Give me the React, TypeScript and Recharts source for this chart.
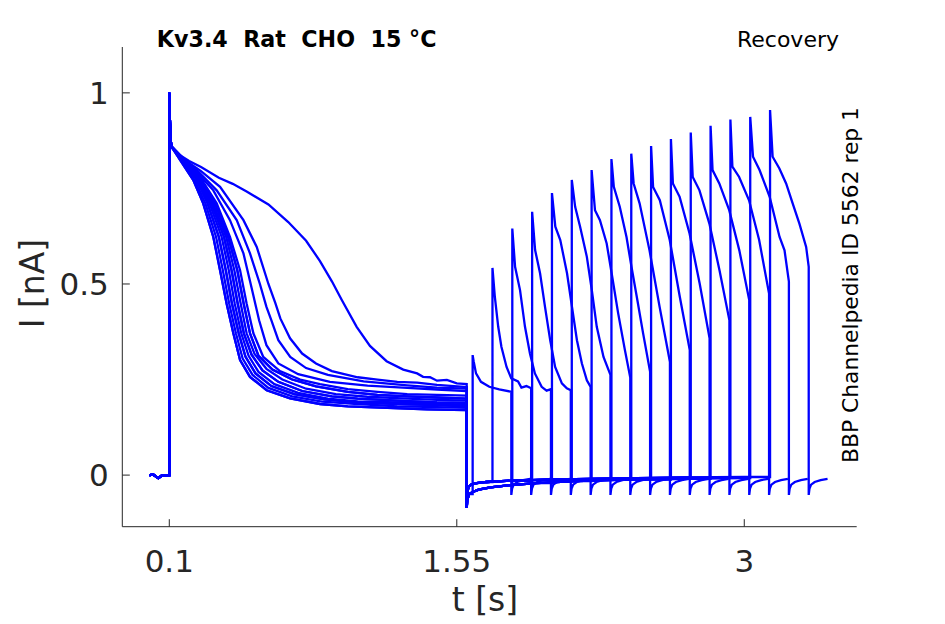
import { LineChart, Line, XAxis, YAxis } from "recharts";

type Pt = [number, number];

const xTicks = [0.1, 1.55, 3];
const yTicks = [0, 0.5, 1];

// holding level before the conditioning pulse
const holdBaseline: Pt[] = [[0, 0], [0.02, 0.001], [0.045, -0.008], [0.06, -0.002], [0.1, 0]];
// activation spike at the start of the conditioning pulse
const onsetSpike: Pt[] = [[0.1, 1.0], [0.101, 0.985], [0.103, 0.93], [0.106, 0.885]];

// conditioning pulse (0.1 - 1.6 s), one shape per sweep group
const prepulseSlow: Pt[] = [
  [0.11, 0.858], [0.15, 0.838], [0.2, 0.822], [0.26, 0.806], [0.35, 0.778], [0.42, 0.762],
  [0.49, 0.742], [0.6, 0.708], [0.7, 0.662], [0.79, 0.613], [0.86, 0.56], [0.92, 0.507],
  [0.97, 0.458], [1.045, 0.388], [1.112, 0.338], [1.196, 0.298], [1.28, 0.276], [1.35, 0.266],
  [1.38, 0.257], [1.415, 0.256], [1.45, 0.247], [1.5, 0.249], [1.55, 0.24], [1.6, 0.238],
];
const prepulseA: Pt[] = [
  [0.11, 0.86], [0.18, 0.824], [0.26, 0.795], [0.356, 0.754], [0.474, 0.667], [0.541, 0.597],
  [0.6, 0.5], [0.635, 0.45], [0.66, 0.41], [0.709, 0.358], [0.77, 0.318], [0.84, 0.292],
  [0.92, 0.272], [1.05, 0.256], [1.15, 0.25], [1.25, 0.244], [1.35, 0.242], [1.45, 0.236], [1.6, 0.23],
];
const prepulseB: Pt[] = [
  [0.11, 0.86], [0.18, 0.823], [0.25, 0.792], [0.339, 0.745], [0.44, 0.667], [0.507, 0.58],
  [0.557, 0.5], [0.59, 0.44], [0.615, 0.405], [0.65, 0.353], [0.71, 0.309], [0.79, 0.28],
  [0.9, 0.262], [1.08, 0.245], [1.3, 0.235], [1.45, 0.229], [1.6, 0.226],
];
const prepulseC: Pt[] = [
  [0.11, 0.86], [0.18, 0.822], [0.25, 0.786], [0.322, 0.745], [0.406, 0.667], [0.474, 0.58],
  [0.515, 0.49], [0.553, 0.405], [0.59, 0.34], [0.65, 0.292], [0.75, 0.264], [0.91, 0.244],
  [1.1, 0.234], [1.3, 0.228], [1.45, 0.224], [1.6, 0.22],
];
const prepulseF1: Pt[] = [
  [0.11, 0.86], [0.155, 0.824], [0.221, 0.772], [0.271, 0.711], [0.322, 0.623], [0.356, 0.536],
  [0.389, 0.449], [0.423, 0.371], [0.457, 0.301], [0.507, 0.257], [0.591, 0.222], [0.709, 0.201],
  [0.86, 0.186], [1.0, 0.18], [1.2, 0.176], [1.4, 0.172], [1.6, 0.17],
];
const prepulseF2: Pt[] = [
  [0.11, 0.86], [0.16, 0.824], [0.228, 0.772], [0.282, 0.711], [0.336, 0.623], [0.37, 0.536],
  [0.402, 0.449], [0.436, 0.371], [0.47, 0.305], [0.52, 0.262], [0.6, 0.228], [0.72, 0.206],
  [0.87, 0.192], [1.05, 0.186], [1.25, 0.18], [1.45, 0.178], [1.6, 0.176],
];
const prepulseF3: Pt[] = [
  [0.11, 0.86], [0.165, 0.824], [0.235, 0.775], [0.293, 0.711], [0.35, 0.623], [0.385, 0.536],
  [0.416, 0.449], [0.45, 0.371], [0.484, 0.31], [0.535, 0.266], [0.615, 0.233], [0.73, 0.212],
  [0.88, 0.198], [1.05, 0.19], [1.25, 0.186], [1.45, 0.183], [1.6, 0.18],
];
const prepulseF4: Pt[] = [
  [0.11, 0.86], [0.168, 0.824], [0.24, 0.776], [0.303, 0.711], [0.364, 0.623], [0.4, 0.536],
  [0.43, 0.449], [0.463, 0.371], [0.5, 0.312], [0.55, 0.27], [0.63, 0.238], [0.75, 0.215],
  [0.9, 0.2], [1.05, 0.193], [1.25, 0.19], [1.45, 0.187], [1.6, 0.184],
];
const prepulseF5: Pt[] = [
  [0.11, 0.86], [0.171, 0.824], [0.244, 0.777], [0.312, 0.711], [0.376, 0.623], [0.414, 0.536],
  [0.445, 0.449], [0.476, 0.371], [0.515, 0.315], [0.57, 0.274], [0.65, 0.244], [0.77, 0.22],
  [0.92, 0.206], [1.05, 0.2], [1.25, 0.195], [1.45, 0.19], [1.6, 0.189],
];
const prepulseF6: Pt[] = [
  [0.11, 0.86], [0.174, 0.824], [0.248, 0.778], [0.32, 0.711], [0.387, 0.623], [0.428, 0.536],
  [0.46, 0.449], [0.49, 0.371], [0.53, 0.317], [0.59, 0.278], [0.67, 0.25], [0.79, 0.226],
  [0.94, 0.212], [1.1, 0.205], [1.3, 0.2], [1.45, 0.197], [1.6, 0.195],
];
const prepulseF7: Pt[] = [
  [0.11, 0.86], [0.177, 0.824], [0.252, 0.779], [0.33, 0.711], [0.397, 0.623], [0.443, 0.536],
  [0.475, 0.449], [0.507, 0.371], [0.55, 0.312], [0.62, 0.276], [0.72, 0.25], [0.84, 0.232],
  [1.0, 0.218], [1.15, 0.21], [1.3, 0.206], [1.45, 0.203], [1.6, 0.2],
];
const prepulseF8: Pt[] = [
  [0.11, 0.86], [0.18, 0.822], [0.255, 0.78], [0.339, 0.711], [0.406, 0.623], [0.457, 0.536],
  [0.49, 0.449], [0.524, 0.371], [0.574, 0.309], [0.658, 0.272], [0.76, 0.25], [0.86, 0.238],
  [1.0, 0.225], [1.15, 0.218], [1.3, 0.212], [1.45, 0.21], [1.6, 0.208],
];

// recovery at the holding level after the conditioning pulse
const recoveryDeep: Pt[] = [
  [1.6, -0.086], [1.603, -0.065], [1.612, -0.05], [1.63, -0.044], [1.66, -0.038], [1.72, -0.032],
  [1.82, -0.026], [1.95, -0.021], [2.15, -0.016], [2.4, -0.012], [2.7, -0.01], [3.0, -0.008],
];
const recoveryShallow: Pt[] = [
  [1.6, -0.07], [1.603, -0.045], [1.61, -0.03], [1.625, -0.024], [1.65, -0.021], [1.7, -0.018],
  [1.8, -0.015], [2.0, -0.012], [2.3, -0.009], [2.7, -0.006], [3.0, -0.005],
];

// test pulse start times (s)
const testStart = [1.63, 1.73, 1.83, 1.93, 2.03, 2.13, 2.23, 2.33, 2.43, 2.53, 2.63, 2.73, 2.83, 2.93, 3.03, 3.13];

// test pulse currents, [time after test pulse start, I]
const pulse00: Pt[] = [[0, 0.314], [0.005, 0.298], [0.017, 0.266], [0.042, 0.244], [0.084, 0.231], [0.134, 0.224], [0.195, 0.218]];
const pulse01: Pt[] = [[0, 0.542], [0.012, 0.466], [0.029, 0.388], [0.045, 0.336], [0.071, 0.283], [0.095, 0.253], [0.129, 0.245], [0.146, 0.229], [0.171, 0.233], [0.195, 0.227]];
const pulse02: Pt[] = [[0, 0.645], [0.014, 0.545], [0.039, 0.484], [0.064, 0.388], [0.089, 0.318], [0.114, 0.266], [0.148, 0.231], [0.173, 0.221], [0.195, 0.225]];
const pulse03: Pt[] = [[0, 0.689], [0.015, 0.589], [0.04, 0.528], [0.065, 0.44], [0.091, 0.353], [0.116, 0.283], [0.15, 0.24], [0.175, 0.227], [0.195, 0.222]];
const pulse04: Pt[] = [[0, 0.738], [0.017, 0.65], [0.042, 0.615], [0.076, 0.528], [0.101, 0.44], [0.126, 0.353], [0.151, 0.292], [0.176, 0.248], [0.195, 0.231]];
const pulse05: Pt[] = [[0, 0.772], [0.017, 0.702], [0.042, 0.65], [0.076, 0.571], [0.101, 0.484], [0.126, 0.388], [0.16, 0.309], [0.195, 0.262]];
const pulse06: Pt[] = [[0, 0.798], [0.017, 0.693], [0.042, 0.667], [0.076, 0.606], [0.101, 0.528], [0.134, 0.423], [0.168, 0.327], [0.195, 0.255]];
const pulse07: Pt[] = [[0, 0.827], [0.012, 0.754], [0.042, 0.702], [0.076, 0.623], [0.101, 0.545], [0.13, 0.46], [0.16, 0.37], [0.195, 0.27]];
const pulse08: Pt[] = [[0, 0.841], [0.012, 0.763], [0.042, 0.711], [0.092, 0.588], [0.143, 0.44], [0.195, 0.296]];
const pulse09: Pt[] = [[0, 0.861], [0.01, 0.754], [0.044, 0.719], [0.094, 0.615], [0.145, 0.466], [0.195, 0.327]];
const pulse10: Pt[] = [[0, 0.879], [0.01, 0.763], [0.044, 0.728], [0.094, 0.632], [0.145, 0.501], [0.195, 0.358]];
const pulse11: Pt[] = [[0, 0.896], [0.01, 0.78], [0.044, 0.745], [0.094, 0.658], [0.145, 0.536], [0.195, 0.405]];
const pulse12: Pt[] = [[0, 0.914], [0.01, 0.798], [0.044, 0.763], [0.094, 0.693], [0.145, 0.588], [0.195, 0.458]];
const pulse13: Pt[] = [[0, 0.93], [0.01, 0.807], [0.044, 0.78], [0.094, 0.719], [0.145, 0.615], [0.195, 0.475]];
const pulse14: Pt[] = [[0, 0.937], [0.014, 0.833], [0.047, 0.798], [0.098, 0.728], [0.148, 0.623], [0.173, 0.588], [0.195, 0.506]];
const pulse15: Pt[] = [[0, 0.955], [0.013, 0.833], [0.047, 0.802], [0.081, 0.763], [0.114, 0.711], [0.148, 0.658], [0.182, 0.597], [0.195, 0.545]];

// tail after the test pulse, [time after test pulse end, I]
const tailAfter: Pt[] = [[0, -0.052], [0.004, -0.035], [0.012, -0.025], [0.03, -0.018], [0.06, -0.013], [0.095, -0.01]];

const testPulses = [pulse00, pulse01, pulse02, pulse03, pulse04, pulse05, pulse06, pulse07,
  pulse08, pulse09, pulse10, pulse11, pulse12, pulse13, pulse14, pulse15];
const prepulses = [prepulseSlow, prepulseA, prepulseB, prepulseC, prepulseF1, prepulseF2, prepulseF3, prepulseF4,
  prepulseF5, prepulseF6, prepulseF7, prepulseF8, prepulseF1, prepulseF3, prepulseF5, prepulseF7];
const recoveries = testStart.map((_, k) => (k % 2 === 0 ? recoveryDeep : recoveryShallow));

function buildSweep(k: number) {
  const pts: { t: number; i: number }[] = [];
  const add = (t: number, i: number) => pts.push({ t, i });
  holdBaseline.forEach(([t, v]) => add(t, v));
  onsetSpike.forEach(([t, v]) => add(t, v));
  prepulses[k].forEach(([t, v]) => add(t, v));
  const start = testStart[k];
  let last = 0;
  recoveries[k].forEach(([t, v]) => {
    if (t < start) {
      add(t, v);
      last = v;
    }
  });
  add(start, last);
  const pulse = testPulses[k];
  pulse.forEach(([dt, v]) => add(start + dt, v));
  const end = start + pulse[pulse.length - 1][0];
  tailAfter.forEach(([dt, v]) => add(end + dt, v));
  return pts;
}

const sweeps = testStart.map((_, k) => buildSweep(k));

const ink = "#262626";

export default function App() {
  return (
    <div style={{ position: "relative", width: 937, height: 616, fontFamily: "DejaVu Sans" }}>
      <LineChart width={937} height={616} margin={{ top: 39, right: 88.3, bottom: 37.3, left: 0 }}>
        <XAxis
          type="number"
          dataKey="t"
          domain={[-0.137, 3.567]}
          allowDataOverflow
          ticks={xTicks}
          interval={0}
          height={60}
          tickSize={-7.5}
          tickMargin={30.5}
          tick={{ fontSize: 31, fill: ink }}
          axisLine={{ stroke: ink }}
          tickLine={{ stroke: ink }}
        />
        <YAxis
          type="number"
          domain={[-0.135, 1.12]}
          allowDataOverflow
          ticks={yTicks}
          interval={0}
          width={114.3}
          tickSize={-7.5}
          tickMargin={21}
          tick={{ fontSize: 31, fill: ink }}
          axisLine={{ stroke: ink }}
          tickLine={{ stroke: ink }}
        />
        {sweeps.map((d, k) => (
          <Line
            key={k}
            data={d}
            dataKey="i"
            type="linear"
            stroke="#0000ff"
            strokeWidth={2.3}
            dot={false}
            activeDot={false}
            isAnimationActive={false}
          />
        ))}
      </LineChart>
      <svg width={937} height={616} style={{ position: "absolute", left: 0, top: 0, pointerEvents: "none" }}>
        <text x={148.8} y={38.7} fontSize={22.2} fontWeight="bold" fill="#000">
          {"Kv3.4\u00a0\u00a0Rat\u00a0\u00a0CHO\u00a0\u00a015\u00a0°C"}
        </text>
        <text x={831} y={38.7} fontSize={22} textAnchor="end" fill="#000">
          Recovery
        </text>
        <text x={850} y={277} fontSize={21.8} textAnchor="middle" fill="#000" transform="rotate(-90, 850, 277)">
          BBP Channelpedia ID 5562 rep 1
        </text>
        <text x={477} y={603} fontSize={33} textAnchor="middle" fill={ink}>
          t [s]
        </text>
        <text x={36} y={275.5} fontSize={33} textAnchor="middle" fill={ink} transform="rotate(-90, 36, 275.5)">
          I [nA]
        </text>
      </svg>
    </div>
  );
}
